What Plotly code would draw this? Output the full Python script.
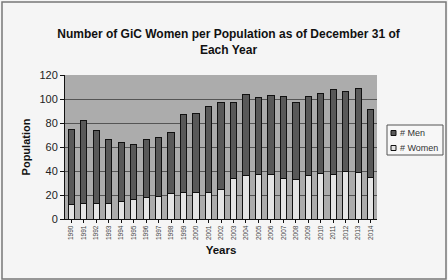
import plotly.graph_objects as go

years = [str(y) for y in range(1990, 2015)]
totals = [75, 82, 74, 66, 64, 62, 66, 68, 72, 87, 88, 94, 97, 97,
          104, 101, 103, 102, 97, 102, 105, 108, 106, 109, 91]
women = [12, 13, 13, 13, 15, 16, 18, 19, 21, 22, 22, 22, 25, 34,
         36, 37, 37, 34, 33, 36, 38, 37, 40, 39, 35]
men = [t - w for t, w in zip(totals, women)]
y_ticks = [0, 20, 40, 60, 80, 100, 120]

font = "Liberation Sans, Arial, sans-serif"
women_color = "#e4e4e4"
men_color = "#595959"

L, R, T, B = 65, 71, 75, 61
W, H = 448, 280
pw, ph = W - L - R, H - T - B


def px(xp):
    return (xp - L) / pw


def py(yp):
    return (H - B - yp) / ph


fig = go.Figure()
fig.add_trace(go.Bar(x=years, y=women, name="# Women", showlegend=False,
                     marker=dict(color=women_color, line=dict(color="#111", width=1))))
fig.add_trace(go.Bar(x=years, y=men, name="# Men", showlegend=False,
                     marker=dict(color=men_color, line=dict(color="#111", width=1))))

fig.update_layout(
    barmode="stack",
    bargap=0.5,
    width=W, height=H,
    margin=dict(l=L, r=R, t=T, b=B, autoexpand=False),
    paper_bgcolor="#f5f5f5",
    plot_bgcolor="#acacac",
    font=dict(family=font, color="#111"),
    title=dict(text="<b>Number of GiC Women per Population as of December 31 of<br>Each Year</b>",
               x=0.51, xanchor="center", y=1 - 38 / H, yanchor="middle",
               font=dict(size=12, family=font, color="#111")),
    showlegend=False,
)
fig.update_xaxes(
    title=dict(text="<b>Years</b>", font=dict(size=11.5, family=font), standoff=6),
    tickangle=-90, tickfont=dict(size=6.5, color="#444"),
    showline=True, linecolor="#111", ticks="outside", ticklen=3, tickcolor="#111",
    showgrid=False, automargin=False,
)
fig.update_yaxes(
    title=dict(text="<b>Population</b>", font=dict(size=11, family=font), standoff=6),
    range=[0, 120], tickvals=y_ticks, tickfont=dict(size=11, color="#222"),
    showline=True, linecolor="#111", ticks="outside", ticklen=4, tickcolor="#111",
    showgrid=True, gridcolor="#555", gridwidth=1, zeroline=False, automargin=False,
)

# outer chart border
fig.add_shape(type="rect", xref="paper", yref="paper",
              x0=px(2), x1=px(446), y0=py(279), y1=py(2),
              line=dict(color="#777", width=1.5), fillcolor="rgba(0,0,0,0)", layer="below")

# legend box (drawn to match the small Excel-style legend)
fig.add_shape(type="rect", xref="paper", yref="paper",
              x0=px(387), x1=px(443), y0=py(155), y1=py(125),
              line=dict(color="#555", width=1), fillcolor="#f7f7f7")
legend_items = [("# Men", men_color, 133), ("# Women", women_color, 148)]
for name, col, yc in legend_items:
    fig.add_shape(type="rect", xref="paper", yref="paper",
                  x0=px(391), x1=px(396), y0=py(yc + 2.5), y1=py(yc - 2.5),
                  line=dict(color="#111", width=1), fillcolor=col)
    fig.add_annotation(text=name, xref="paper", yref="paper", x=px(398), y=py(yc),
                       xanchor="left", yanchor="middle", showarrow=False,
                       font=dict(size=9, family=font, color="#333"))

fig.write_html("out.html", config={"displayModeBar": False},
               post_script="document.body.style.margin='0';document.body.style.overflow='hidden';")
